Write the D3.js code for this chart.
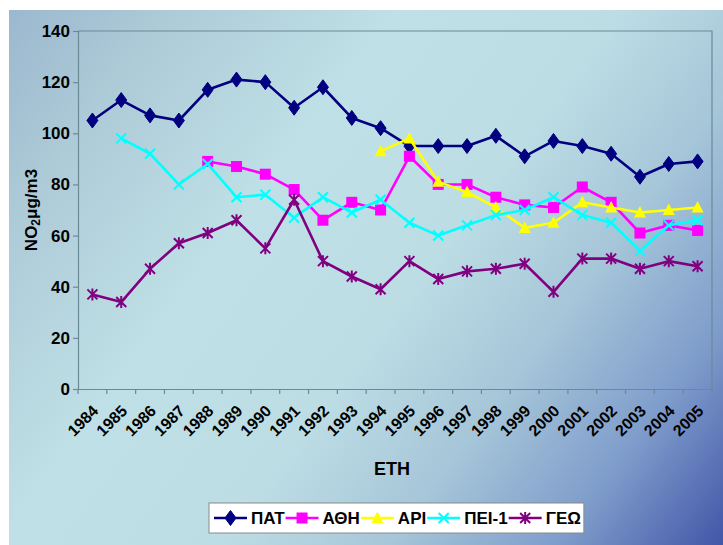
<!DOCTYPE html>
<html><head><meta charset="utf-8">
<script src="https://cdn.jsdelivr.net/npm/d3@7"></script>
<style>
body{margin:0;background:#fff}
svg{display:block}
text{font-family:"Liberation Sans",Arial,sans-serif;font-weight:bold;fill:#000}
</style>
</head><body><svg id="c" width="723" height="545"></svg>
<script>
const years = ["1984","1985","1986","1987","1988","1989","1990","1991","1992","1993","1994","1995","1996","1997","1998","1999","2000","2001","2002","2003","2004","2005"];
const yTicks = [0,20,40,60,80,100,120,140];
const PAT  = [105,113,107,105,117,121,120,110,118,106,102,95,95,95,99,91,97,95,92,83,88,89];
const ATH  = [null,null,null,null,89,87,84,78,66,73,70,91,80,80,75,72,71,79,73,61,64,62];
const ARI  = [null,null,null,null,null,null,null,null,null,null,93,98,81,77,71,63,65,73,71,69,70,71];
const PEI1 = [null,98,92,80,88,75,76,67,75,69,74,65,60,64,68,70,75,68,65,54,64,66];
const GEO  = [37,34,47,57,61,66,55,74,50,44,39,50,43,46,47,49,38,51,51,47,50,48];
const seriesNames = ["ΠΑΤ","ΑΘΗ","ΑΡΙ","ΠΕΙ-1","ΓΕΩ"];
const xTitle = "ΕΤΗ";

const series = [
  {name:seriesNames[0], values:PAT,  color:"#000080", marker:"diamond"},
  {name:seriesNames[1], values:ATH,  color:"#ff00ff", marker:"square"},
  {name:seriesNames[2], values:ARI,  color:"#ffff00", marker:"triangle"},
  {name:seriesNames[3], values:PEI1, color:"#00ffff", marker:"x"},
  {name:seriesNames[4], values:GEO,  color:"#800080", marker:"star"}
];

const svg = d3.select("#c");
const defs = svg.append("defs");
const g = defs.append("linearGradient").attr("id","bg")
  .attr("gradientUnits","userSpaceOnUse").attr("x1",9).attr("y1",10).attr("x2",723).attr("y2",545);
[[0,"#9bb8cf"],[0.15,"#aecbd8"],[0.35,"#bfe0e6"],[0.55,"#bcdde4"],[0.7,"#a6c6d9"],[0.85,"#7f9dcb"],[1,"#4256a8"]]
  .forEach(([o,c])=>g.append("stop").attr("offset",o).attr("stop-color",c));
svg.append("rect").attr("x",9).attr("y",10).attr("width",714).attr("height",535).attr("fill","url(#bg)");

const x = d3.scaleBand().domain(years).range([78,712]);
const y = d3.scaleLinear().domain([0,140]).range([389,31]);
const cx = d => x(d) + x.bandwidth()/2;
const axisColor = "#6a8a96";
const FF = "'Liberation Sans',Arial,sans-serif";

// plot frame (top and right)
svg.append("path").attr("d",`M${x.range()[0]},${y(140)}H${x.range()[1]}V${y(0)}`)
  .attr("fill","none").attr("stroke",axisColor).attr("stroke-width",1.2);

// y axis
const ya = svg.append("g").attr("transform",`translate(${x.range()[0]},0)`)
  .call(d3.axisLeft(y).tickValues(yTicks).tickSize(5).tickPadding(3));
ya.selectAll("path,line").attr("stroke",axisColor).attr("stroke-width",1.2);
ya.selectAll("text").style("font-size","17px").style("font-family",FF).style("font-weight","bold").attr("fill","#000");

// x axis
const xa = svg.append("g").attr("transform",`translate(0,${y(0)})`)
  .call(d3.axisBottom(x).tickSize(0).tickPadding(0));
xa.select("path").attr("stroke",axisColor).attr("stroke-width",1.2);
xa.selectAll(".tick text")
  .style("font-size","16px").style("font-family",FF).style("font-weight","bold").attr("fill","#000")
  .attr("text-anchor","end").attr("y",0).attr("dy","0.35em")
  .attr("transform","translate(3,19) rotate(-45)");
const bounds = years.map(d=>x(d)).concat([x.range()[1]]);
svg.append("g").selectAll("line").data(bounds).join("line")
  .attr("x1",d=>d).attr("x2",d=>d).attr("y1",y(0)).attr("y2",y(0)+5)
  .attr("stroke",axisColor).attr("stroke-width",1.2);

// titles
svg.append("text").attr("x",392).attr("y",475).attr("text-anchor","middle").style("font-size","18px").text(xTitle);
const yt = svg.append("text").attr("transform","translate(37,210) rotate(-90)").attr("text-anchor","middle").style("font-size","17px");
yt.append("tspan").text("NO");
yt.append("tspan").text("2").style("font-size","12px").attr("dy",3);
yt.append("tspan").text("μg/m3").attr("dy",-3);

// markers
function marker(sel, type, color){
  if(type==="diamond") sel.append("path").attr("d","M0,-7.5L5.5,0L0,7.5L-5.5,0Z").attr("fill",color).attr("stroke",color);
  else if(type==="square") sel.append("rect").attr("x",-5.5).attr("y",-5.5).attr("width",11).attr("height",11).attr("fill",color);
  else if(type==="triangle") sel.append("path").attr("d","M0,-6.5L6,5L-6,5Z").attr("fill",color);
  else if(type==="x") sel.append("path").attr("d","M-5,-5L5,5M-5,5L5,-5").attr("stroke",color).attr("stroke-width",2).attr("fill","none");
  else if(type==="star") sel.append("path").attr("d","M-5,-5L5,5M-5,5L5,-5M0,-6V6").attr("stroke",color).attr("stroke-width",2).attr("fill","none");
}

const line = d3.line().defined(d=>d.v!=null).x(d=>cx(d.k)).y(d=>y(d.v));
series.forEach(s=>{
  const pts = years.map((k,i)=>({k, v:s.values[i]}));
  svg.append("path").datum(pts).attr("d",line).attr("fill","none").attr("stroke",s.color).attr("stroke-width",2.6).attr("stroke-linejoin","round");
  svg.append("g").selectAll("g").data(pts.filter(d=>d.v!=null)).join("g")
    .attr("transform",d=>`translate(${cx(d.k)},${y(d.v)})`)
    .each(function(){ marker(d3.select(this), s.marker, s.color); });
});

// legend
const lg = svg.append("g");
const box = lg.append("rect").attr("x",209).attr("y",503).attr("height",30).attr("fill","#fff").attr("stroke","#8a8a8a").attr("stroke-width",1);
let lx = 214;
series.forEach(s=>{
  lg.append("line").attr("x1",lx).attr("x2",lx+33).attr("y1",518).attr("y2",518).attr("stroke",s.color).attr("stroke-width",2.5);
  const m = lg.append("g").attr("transform",`translate(${lx+16.5},518)`);
  marker(m, s.marker, s.color);
  const t = lg.append("text").attr("x",lx+37).attr("y",524).style("font-size","17px").text(s.name);
  lx = lx + 37 + t.node().getComputedTextLength() + 1;
});
box.attr("width", lx - 209 + 2);
</script>
</body></html>
